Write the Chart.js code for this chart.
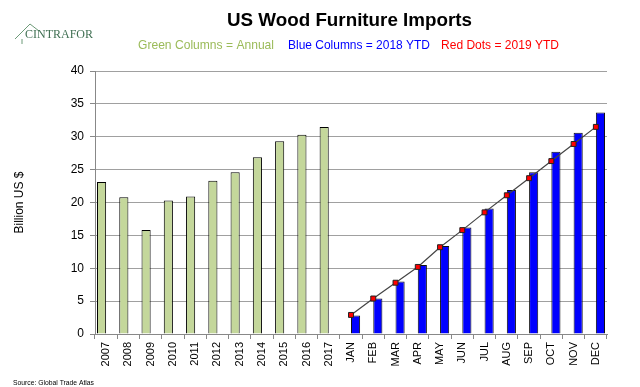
<!DOCTYPE html>
<html lang="en">
<head>
    <meta charset="UTF-8">
    <title>US Wood Furniture Imports</title>
    <script src="https://cdn.jsdelivr.net/npm/chart.js"></script>
    <style>
        body { margin: 0; background: #fff; }
        #wrap { width: 640px; height: 387px; position: relative; }
    </style>
</head>
<body>
    <div id="wrap"><canvas id="chart"></canvas></div>

    <script>
        const years = ['2007', '2008', '2009', '2010', '2011', '2012', '2013', '2014', '2015', '2016', '2017'];
        const months = ['JAN', 'FEB', 'MAR', 'APR', 'MAY', 'JUN', 'JUL', 'AUG', 'SEP', 'OCT', 'NOV', 'DEC'];

        // billion US $
        const annual = [23.1, 20.8, 15.8, 20.3, 20.9, 23.3, 24.6, 26.9, 29.3, 30.3, 31.5];
        const ytd2018 = [2.8, 5.4, 8.0, 10.5, 13.4, 16.2, 19.1, 21.9, 24.6, 27.7, 30.6, 33.7];
        const ytd2019 = [2.9, 5.4, 7.8, 10.2, 13.2, 15.8, 18.5, 21.1, 23.7, 26.3, 28.9, 31.5];

        const yTicks = [0, 5, 10, 15, 20, 25, 30, 35, 40];

        const labels = years.concat(months);
        const pad = (n) => new Array(n).fill(null);

        const font = 'Liberation Sans, Arial, sans-serif';

        // title, colour key, logo and source note
        const headerPlugin = {
            id: 'header',
            beforeDraw(chart) {
                const ctx = chart.ctx;
                ctx.save();
                ctx.fillStyle = '#fff';
                ctx.fillRect(0, 0, chart.width, chart.height);
                ctx.restore();
            },
            afterDraw(chart) {
                const ctx = chart.ctx;
                ctx.save();
                ctx.textBaseline = 'alphabetic';

                ctx.fillStyle = '#000';
                ctx.font = 'bold 19px ' + font;
                ctx.fillText('US Wood Furniture Imports', 227, 26, 245);

                ctx.font = '13px ' + font;
                ctx.fillStyle = '#9bbb59';
                ctx.fillText('Green Columns = Annual', 138, 49, 136);
                ctx.fillStyle = '#0000ff';
                ctx.fillText('Blue Columns = 2018 YTD', 288, 49, 142);
                ctx.fillStyle = '#ff0000';
                ctx.fillText('Red Dots = 2019 YTD', 441, 49, 118);

                // logo
                ctx.strokeStyle = '#6d9a78';
                ctx.lineWidth = 1;
                ctx.beginPath();
                ctx.moveTo(15, 39);
                ctx.lineTo(30, 24);
                ctx.lineTo(39, 31);
                ctx.moveTo(22, 39);
                ctx.lineTo(22, 44);
                ctx.stroke();
                ctx.fillStyle = '#3f6f52';
                ctx.font = '12px Liberation Serif, serif';
                ctx.fillText('CINTRAFOR', 25, 38, 74);

                ctx.fillStyle = '#000';
                ctx.font = '8px ' + font;
                ctx.fillText('Source: Global Trade Atlas', 13, 385, 81);
                ctx.restore();
            }
        };

        const ctx = document.getElementById('chart').getContext('2d');
        const chart = new Chart(ctx, {
            type: 'bar',
            data: {
                labels: labels,
                datasets: [
                    {
                        type: 'line',
                        label: '2019 YTD',
                        data: pad(years.length).concat(ytd2019),
                        borderColor: '#444',
                        borderWidth: 1.2,
                        pointStyle: 'rect',
                        pointRadius: 3.5,
                        pointBackgroundColor: '#ff0000',
                        pointBorderColor: '#222',
                        pointBorderWidth: 1,
                        order: 0
                    },
                    {
                        label: 'Annual',
                        data: annual.concat(pad(months.length)),
                        backgroundColor: '#c4d79b',
                        borderColor: '#000',
                        borderWidth: 1,
                        order: 1
                    },
                    {
                        label: '2018 YTD',
                        data: pad(years.length).concat(ytd2018),
                        backgroundColor: '#0000ff',
                        borderColor: '#111',
                        borderWidth: 1,
                        order: 1
                    }
                ]
            },
            options: {
                responsive: true,
                maintainAspectRatio: false,
                animation: false,
                categoryPercentage: 0.82,
                barPercentage: 1.0,
                layout: {
                    padding: { top: 71, right: 33, bottom: 0, left: 0 }
                },
                plugins: {
                    legend: { display: false },
                    title: { display: false },
                    tooltip: { enabled: false }
                },
                scales: {
                    x: {
                        afterFit: (s) => { s.height = 53; },
                        grid: {
                            offset: true,
                            drawOnChartArea: false,
                            tickLength: 5,
                            color: '#888'
                        },
                        border: { color: '#888' },
                        ticks: {
                            minRotation: 90,
                            maxRotation: 90,
                            autoSkip: false,
                            padding: 3,
                            color: '#000',
                            font: { family: font, size: 11 }
                        }
                    },
                    y: {
                        min: 0,
                        max: 40,
                        afterFit: (s) => { s.width = 95; },
                        afterBuildTicks: (s) => { s.ticks = yTicks.map(v => ({ value: v })); },
                        grid: {
                            color: '#a0a0a0',
                            borderDash: [1, 1],
                            tickBorderDash: [],
                            tickColor: '#888',
                            tickLength: 5
                        },
                        border: { color: '#888' },
                        ticks: {
                            padding: 6,
                            color: '#000',
                            font: { family: font, size: 12 }
                        },
                        title: {
                            display: true,
                            text: 'Billion US $',
                            color: '#000',
                            padding: { top: 12, bottom: 0 },
                            font: { family: font, size: 12 }
                        }
                    }
                }
            },
            plugins: [headerPlugin]
        });
    </script>
</body>
</html>
